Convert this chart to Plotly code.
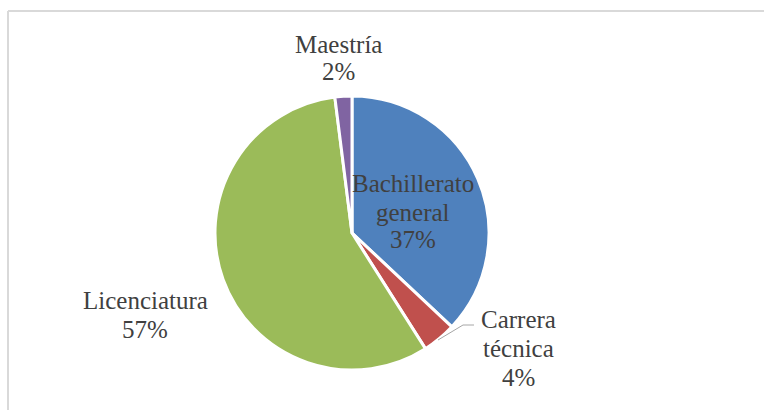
import plotly.graph_objects as go

categories = ["Bachillerato general", "Carrera técnica", "Licenciatura", "Maestría"]
values = [37, 4, 57, 2]
colors = ["#4F81BD", "#C0504D", "#9BBB59", "#8064A2"]
label_lines = [["Bachillerato", "general"], ["Carrera", "técnica"], ["Licenciatura"], ["Maestría"]]

W, H = 764, 410
total = sum(values)

def px(x):
    return x / W

def py(y):
    return 1 - y / H

fig = go.Figure(go.Pie(
    labels=categories,
    values=values,
    sort=False,
    direction="clockwise",
    rotation=0,
    marker=dict(colors=colors, line=dict(color="white", width=3)),
    textinfo="none",
    hoverinfo="label+percent",
    domain=dict(x=[px(215), px(489)], y=[py(370), py(96)]),
    showlegend=False,
))

# label layout: (center x, first line center y, line spacing)
label_pos = [(413, 184, 28), (518, 319, 29), (145, 300, 29), (338, 45, 27)]

annotations = []
for lines, v, (cx, cy, dy) in zip(label_lines, values, label_pos):
    pct = f"{round(100 * v / total)}%"
    for i, t in enumerate(lines + [pct]):
        annotations.append(dict(
            x=px(cx), y=py(cy + i * dy), xref="paper", yref="paper",
            text=t, showarrow=False, xanchor="center", yanchor="middle",
            font=dict(family="Liberation Serif", size=25, color="#404040"),
        ))

frame = dict(color="#D9D9D9", width=2)
shapes = [
    dict(type="line", xref="paper", yref="paper",
         x0=px(8), y0=py(11), x1=1.0, y1=py(11), line=frame),
    dict(type="line", xref="paper", yref="paper",
         x0=px(8), y0=0.0, x1=px(8), y1=py(11), line=frame),
    dict(type="path", xref="paper", yref="paper",
         path=f"M {px(438)},{py(340)} L {px(463)},{py(325)} L {px(474)},{py(325)}",
         line=dict(color="#A6A6A6", width=1)),
]

fig.update_layout(
    width=W, height=H,
    margin=dict(l=0, r=0, t=0, b=0),
    paper_bgcolor="white",
    plot_bgcolor="white",
    annotations=annotations,
    shapes=shapes,
)

fig.write_html(
    "out.html",
    config={"displayModeBar": False},
    post_script=(
        "var s=document.createElement('style');"
        "s.textContent='html,body{margin:0;padding:0;overflow:hidden;scrollbar-width:none;}"
        "::-webkit-scrollbar{display:none;width:0;height:0;}';"
        "document.head.appendChild(s);"
    ),
)
